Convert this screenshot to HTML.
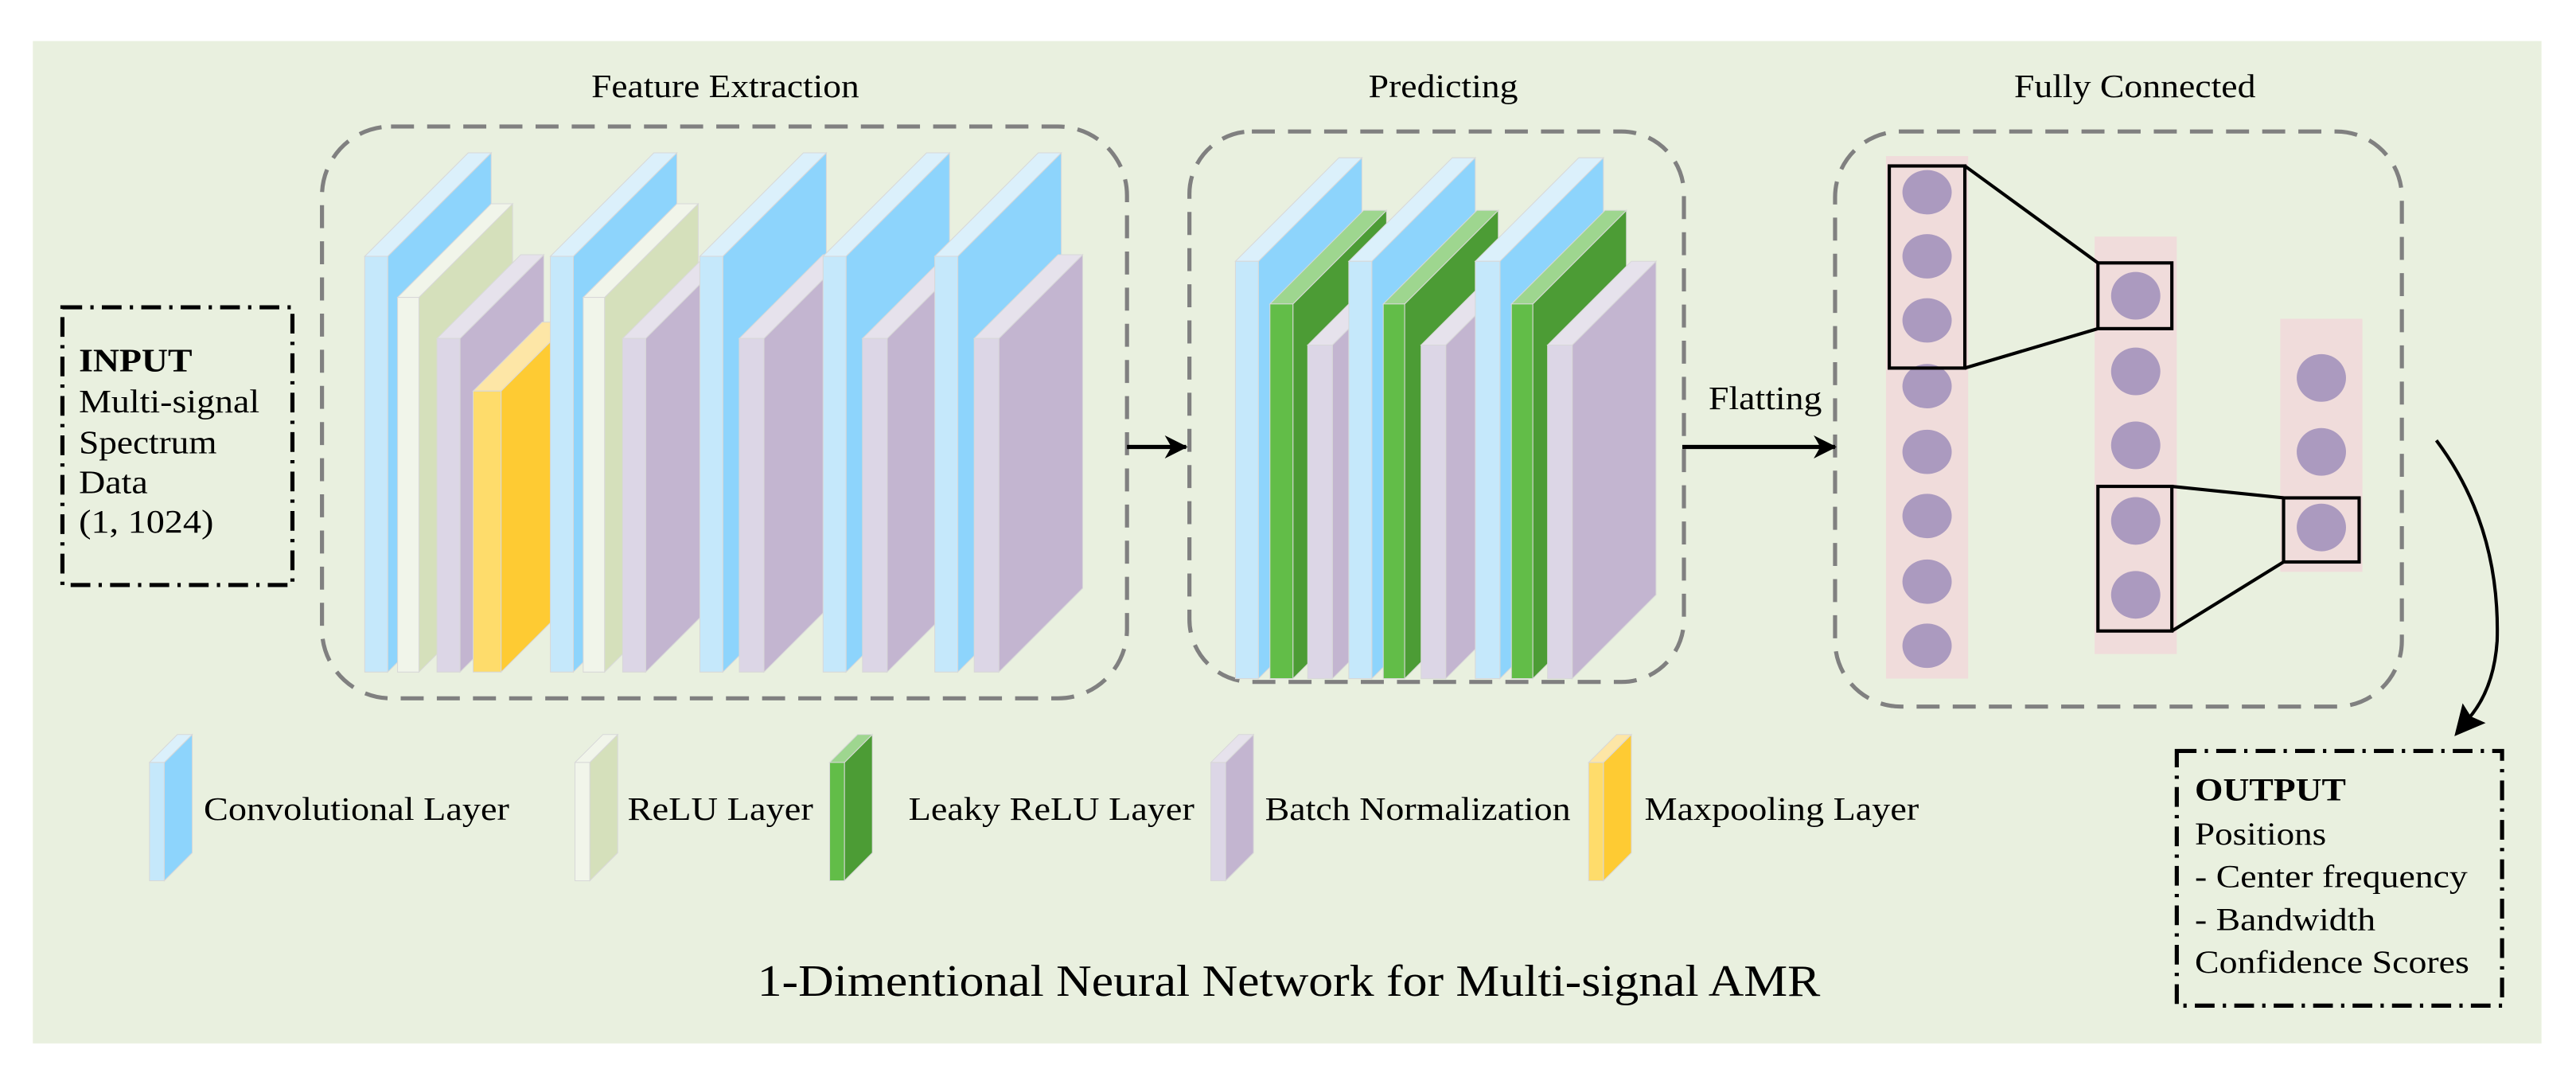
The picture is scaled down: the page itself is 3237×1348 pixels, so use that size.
<!DOCTYPE html>
<html><head><meta charset="utf-8"><style>html,body{margin:0;padding:0;background:#fff}svg{display:block}svg text{font-family:"Liberation Serif","Times New Roman",serif;fill:#000}</style></head>
<body>
<svg width="3237" height="1348" viewBox="0 0 1568 653" preserveAspectRatio="none" xmlns="http://www.w3.org/2000/svg">
<defs>
<marker id="ah" markerWidth="14" markerHeight="14" refX="13" refY="7" orient="auto" markerUnits="userSpaceOnUse"><path d="M0,0 L14,7 L0,14 L4,7 z" fill="#000"/></marker>
</defs>
<rect x="20" y="25" width="1527" height="610" fill="#e9f0df"/>
<g lengthAdjust="spacingAndGlyphs">
<text x="360" y="59" font-size="20" textLength="163" lengthAdjust="spacingAndGlyphs">Feature Extraction</text>
<text x="833" y="59" font-size="20" textLength="91" lengthAdjust="spacingAndGlyphs">Predicting</text>
<text x="1226" y="59" font-size="20" textLength="147" lengthAdjust="spacingAndGlyphs">Fully Connected</text>
</g>
<g fill="none" stroke="#808080" stroke-width="2.5" stroke-dasharray="14 8">
<rect x="196" y="77" width="490" height="348" rx="42"/>
<rect x="724" y="80" width="301" height="335" rx="38"/>
<rect x="1117" y="80" width="345" height="350" rx="40"/>
</g>
<rect x="38" y="187" width="140" height="169" fill="none" stroke="#000" stroke-width="2.5" stroke-dasharray="12 5 2 5"/>
<text x="48" y="226" font-size="20" font-weight="bold" textLength="69" lengthAdjust="spacingAndGlyphs">INPUT</text>
<text x="48" y="251" font-size="20" textLength="110" lengthAdjust="spacingAndGlyphs">Multi-signal</text>
<text x="48" y="276" font-size="20" textLength="84" lengthAdjust="spacingAndGlyphs">Spectrum</text>
<text x="48" y="300" font-size="20" textLength="42" lengthAdjust="spacingAndGlyphs">Data</text>
<text x="48" y="324" font-size="20" textLength="82" lengthAdjust="spacingAndGlyphs">(1, 1024)</text>
<g id="slabs" stroke="#d8d8d8" stroke-width="0.5"></g>
<path d="M686 272 H722" stroke="#000" stroke-width="2.5" marker-end="url(#ah)"/>
<path d="M1024 272 H1117" stroke="#000" stroke-width="2.5" marker-end="url(#ah)"/>
<text x="1040" y="249" font-size="20" textLength="69" lengthAdjust="spacingAndGlyphs">Flatting</text>
<g fill="#f0dcdb"><rect x="1148" y="95" width="50" height="318"/><rect x="1275" y="144" width="50" height="254"/><rect x="1388" y="194" width="50" height="154"/></g>
<g fill="#ab9abf">
<ellipse cx="1173" cy="117" rx="15" ry="13.5"/><ellipse cx="1173" cy="156" rx="15" ry="13.5"/><ellipse cx="1173" cy="195" rx="15" ry="13.5"/><ellipse cx="1173" cy="235" rx="15" ry="13.5"/><ellipse cx="1173" cy="275" rx="15" ry="13.5"/><ellipse cx="1173" cy="314" rx="15" ry="13.5"/><ellipse cx="1173" cy="354" rx="15" ry="13.5"/><ellipse cx="1173" cy="393" rx="15" ry="13.5"/>
<ellipse cx="1300" cy="180" rx="15" ry="14.5"/><ellipse cx="1300" cy="226" rx="15" ry="14.5"/><ellipse cx="1300" cy="271" rx="15" ry="14.5"/><ellipse cx="1300" cy="317" rx="15" ry="14.5"/><ellipse cx="1300" cy="362" rx="15" ry="14.5"/>
<ellipse cx="1413" cy="230" rx="15" ry="14.5"/><ellipse cx="1413" cy="275" rx="15" ry="14.5"/><ellipse cx="1413" cy="321" rx="15" ry="14.5"/>
</g>
<g fill="none" stroke="#000" stroke-width="2">
<rect x="1150" y="101" width="46" height="123"/><rect x="1277" y="160" width="45" height="40"/>
<path d="M1196 101 L1277 160 M1196 224 L1277 200"/>
<rect x="1277" y="296" width="45" height="88"/><rect x="1390" y="303" width="46" height="39"/>
<path d="M1322 296 L1390 303 M1322 384 L1390 342"/>
</g>
<path d="M1483 268 Q1522 320 1520 390 Q1518 420 1502 438" fill="none" stroke="#000" stroke-width="2"/>
<path d="M1494 448 L1499 428 L1504 436 L1513 440 z" fill="#000"/>
<rect x="1325" y="457" width="198" height="155" fill="none" stroke="#000" stroke-width="2.5" stroke-dasharray="12 5 2 5"/>
<text x="1336" y="487" font-size="19.5" font-weight="bold" textLength="92" lengthAdjust="spacingAndGlyphs">OUTPUT</text>
<text x="1336" y="514" font-size="19.5" textLength="80" lengthAdjust="spacingAndGlyphs">Positions</text>
<text x="1336" y="540" font-size="19.5" textLength="166" lengthAdjust="spacingAndGlyphs">- Center frequency</text>
<text x="1336" y="566" font-size="19.5" textLength="110" lengthAdjust="spacingAndGlyphs">- Bandwidth</text>
<text x="1336" y="592" font-size="19.5" textLength="167" lengthAdjust="spacingAndGlyphs">Confidence Scores</text>
<text x="124" y="499" font-size="20" textLength="186" lengthAdjust="spacingAndGlyphs">Convolutional Layer</text>
<text x="382" y="499" font-size="20" textLength="113" lengthAdjust="spacingAndGlyphs">ReLU Layer</text>
<text x="553" y="499" font-size="20" textLength="174" lengthAdjust="spacingAndGlyphs">Leaky ReLU Layer</text>
<text x="770" y="499" font-size="20" textLength="186" lengthAdjust="spacingAndGlyphs">Batch Normalization</text>
<text x="1001" y="499" font-size="20" textLength="167" lengthAdjust="spacingAndGlyphs">Maxpooling Layer</text>
<text x="461" y="606" font-size="27" textLength="647" lengthAdjust="spacingAndGlyphs">1-Dimentional Neural Network for Multi-signal AMR</text>
</svg>
<script>
var C={b:['#c5e8fb','#8dd4fc','#dbf0fb'],r:['#f1f5ea','#d5e0bb','#f1f5ea'],n:['#dcd6e6','#c3b5d0','#e6e2ec'],m:['#fedc6b','#fecb33','#fde6a6'],g:['#62bd48','#4c9c35','#9ed68f']};
var D={b:63,r:57,n:51,m:42,g:57};
var g=document.getElementById('slabs');
function slab(t,x,y,w,bot,d){var c=C[t];d=d||D[t];
function p(pts,f){var e=document.createElementNS('http://www.w3.org/2000/svg','polygon');e.setAttribute('points',pts);e.setAttribute('fill',f);g.appendChild(e);}
p((x+w)+','+y+' '+(x+w+d)+','+(y-d)+' '+(x+w+d)+','+(bot-d)+' '+(x+w)+','+bot,c[1]);
p(x+','+y+' '+(x+w)+','+y+' '+(x+w+d)+','+(y-d)+' '+(x+d)+','+(y-d),c[2]);
p(x+','+y+' '+(x+w)+','+y+' '+(x+w)+','+bot+' '+x+','+bot,c[0]);}
var Y={b:156,r:181,n:206,m:238};
[['b',222,14],['r',242,13],['n',266,14],['m',288,17],['b',335,14],['r',355,13],['n',379,14],['b',426,14],['n',450,15],['b',501,14],['n',525,15],['b',569,14],['n',593,15]].forEach(function(a){slab(a[0],a[1],Y[a[0]],a[2],409);});
var PY={b:159,g:185,n:210};
[['b',752,14],['g',773,14],['n',796,15],['b',821,14],['g',842,13],['n',865,15],['b',898,15],['g',920,13],['n',942,15]].forEach(function(a){slab(a[0],a[1],PY[a[0]],a[2],413);});
[['b',91],['r',350],['g',505],['n',737],['m',967]].forEach(function(a){slab(a[0],a[1],464,9,536,17);});
</script>
</body></html>
